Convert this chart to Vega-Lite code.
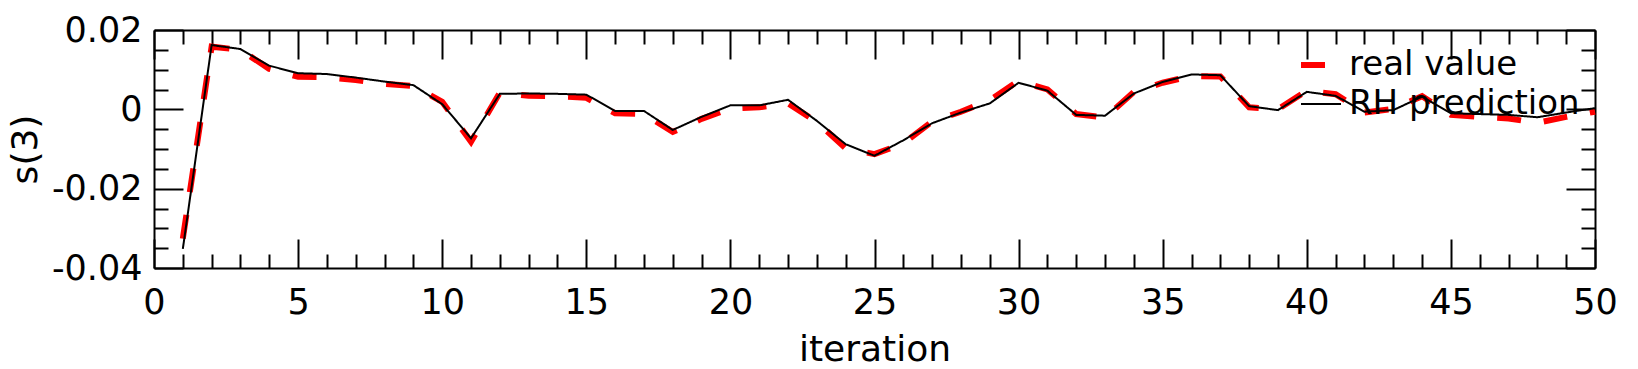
{
  "$schema": "https://vega.github.io/schema/vega-lite/v6.json",
  "width": 1441,
  "height": 238,
  "autosize": {"type": "none"},
  "padding": {"left": 154, "top": 30, "right": 43, "bottom": 101},
  "background": "white",
  "config": {
    "view": {"stroke": null},
    "font": "DejaVu Sans",
    "axis": {
      "grid": false,
      "domainColor": "black",
      "domainWidth": 2,
      "tickColor": "black",
      "tickWidth": 2,
      "labelColor": "black",
      "labelFont": "DejaVu Sans",
      "labelFontSize": 35,
      "labelFlush": false,
      "labelOverlap": false,
      "labelBound": false,
      "titleColor": "black",
      "titleFont": "DejaVu Sans",
      "titleFontSize": 36,
      "titleFontWeight": "normal"
    },
    "legend": {
      "orient": "none",
      "legendX": 1144,
      "legendY": 12,
      "padding": 0,
      "labelFont": "DejaVu Sans",
      "labelFontSize": 34,
      "labelColor": "black",
      "labelLimit": 0,
      "symbolType": "stroke",
      "symbolSize": 1600,
      "labelOffset": 5,
      "rowPadding": 1
    }
  },
  "data": {
    "values": [
      {"iteration": 1, "real value": -0.0326, "RH prediction": -0.0352},
      {"iteration": 2, "real value": 0.0158, "RH prediction": 0.0162},
      {"iteration": 3, "real value": 0.0150, "RH prediction": 0.0152},
      {"iteration": 4, "real value": 0.0102, "RH prediction": 0.0110},
      {"iteration": 5, "real value": 0.0082, "RH prediction": 0.0091},
      {"iteration": 6, "real value": 0.0081, "RH prediction": 0.0089},
      {"iteration": 7, "real value": 0.0074, "RH prediction": 0.0080},
      {"iteration": 8, "real value": 0.0064, "RH prediction": 0.0070},
      {"iteration": 9, "real value": 0.0059, "RH prediction": 0.0061},
      {"iteration": 10, "real value": 0.0019, "RH prediction": 0.0013},
      {"iteration": 11, "real value": -0.0082, "RH prediction": -0.0073},
      {"iteration": 12, "real value": 0.0042, "RH prediction": 0.0039},
      {"iteration": 13, "real value": 0.0034, "RH prediction": 0.0040},
      {"iteration": 14, "real value": 0.0033, "RH prediction": 0.0039},
      {"iteration": 15, "real value": 0.0029, "RH prediction": 0.0037},
      {"iteration": 16, "real value": -0.0010, "RH prediction": -0.0004},
      {"iteration": 17, "real value": -0.0012, "RH prediction": -0.0004},
      {"iteration": 18, "real value": -0.0057, "RH prediction": -0.0052},
      {"iteration": 19, "real value": -0.0024, "RH prediction": -0.0019},
      {"iteration": 20, "real value": 0.0002, "RH prediction": 0.0010},
      {"iteration": 21, "real value": 0.0005, "RH prediction": 0.0010},
      {"iteration": 22, "real value": 0.0015, "RH prediction": 0.0024},
      {"iteration": 23, "real value": -0.0032, "RH prediction": -0.0029},
      {"iteration": 24, "real value": -0.0098, "RH prediction": -0.0088},
      {"iteration": 25, "real value": -0.0113, "RH prediction": -0.0117},
      {"iteration": 26, "real value": -0.0086, "RH prediction": -0.0078},
      {"iteration": 27, "real value": -0.0031, "RH prediction": -0.0035},
      {"iteration": 28, "real value": -0.0006, "RH prediction": -0.0008},
      {"iteration": 29, "real value": 0.0023, "RH prediction": 0.0015},
      {"iteration": 30, "real value": 0.0072, "RH prediction": 0.0067},
      {"iteration": 31, "real value": 0.0050, "RH prediction": 0.0047},
      {"iteration": 32, "real value": -0.0012, "RH prediction": -0.0014},
      {"iteration": 33, "real value": -0.0021, "RH prediction": -0.0016},
      {"iteration": 34, "real value": 0.0044, "RH prediction": 0.0040},
      {"iteration": 35, "real value": 0.0067, "RH prediction": 0.0069},
      {"iteration": 36, "real value": 0.0084, "RH prediction": 0.0088},
      {"iteration": 37, "real value": 0.0083, "RH prediction": 0.0086},
      {"iteration": 38, "real value": 0.0005, "RH prediction": 0.0008},
      {"iteration": 39, "real value": 0.0000, "RH prediction": -0.0002},
      {"iteration": 40, "real value": 0.0047, "RH prediction": 0.0044},
      {"iteration": 41, "real value": 0.0038, "RH prediction": 0.0034},
      {"iteration": 42, "real value": -0.0008, "RH prediction": -0.0006},
      {"iteration": 43, "real value": 0.0001, "RH prediction": -0.0002},
      {"iteration": 44, "real value": 0.0033, "RH prediction": 0.0032},
      {"iteration": 45, "real value": -0.0014, "RH prediction": -0.0010},
      {"iteration": 46, "real value": -0.0019, "RH prediction": -0.0012},
      {"iteration": 47, "real value": -0.0023, "RH prediction": -0.0014},
      {"iteration": 48, "real value": -0.0034, "RH prediction": -0.0020},
      {"iteration": 49, "real value": -0.0019, "RH prediction": -0.0008},
      {"iteration": 50, "real value": -0.0006, "RH prediction": 0.0003}
    ]
  },
  "transform": [{"fold": ["real value", "RH prediction"], "as": ["series", "value"]}],
  "layer": [
    {
      "transform": [{"filter": "datum.series === 'real value'"}],
      "mark": {"type": "line", "strokeCap": "butt", "strokeJoin": "miter"},
      "encoding": {
        "x": {
          "field": "iteration", "type": "quantitative",
          "scale": {"domain": [0, 50], "nice": false, "zero": false},
          "axis": {
            "orient": "bottom",
            "values": [0,1,2,3,4,5,6,7,8,9,10,11,12,13,14,15,16,17,18,19,20,21,22,23,24,25,26,27,28,29,30,31,32,33,34,35,36,37,38,39,40,41,42,43,44,45,46,47,48,49,50],
            "tickSize": {"condition": {"test": "datum.value % 5 === 0", "value": -29}, "value": -14},
            "labelExpr": "datum.value % 5 === 0 ? datum.label : ''",
            "labelPadding": 46,
            "title": "iteration",
            "titleBaseline": "alphabetic",
            "titleY": 92
          }
        },
        "y": {
          "field": "value", "type": "quantitative",
          "scale": {"domain": [-0.04, 0.02], "nice": false, "zero": false},
          "axis": {
            "orient": "left",
            "values": [-0.04,-0.035,-0.03,-0.025,-0.02,-0.015,-0.01,-0.005,0,0.005,0.01,0.015,0.02],
            "tickSize": {"condition": {"test": "abs(datum.value/0.02 - round(datum.value/0.02)) < 0.001", "value": -29}, "value": -14},
            "labelExpr": "abs(datum.value/0.02 - round(datum.value/0.02)) < 0.001 ? '' + datum.value : ''",
            "labelPadding": 41,
            "labelBaseline": "middle",
            "title": "s(3)",
            "titleBaseline": "alphabetic",
            "titleX": -118
          }
        },
        "color": {"field": "series", "type": "nominal", "scale": {"domain": ["real value", "RH prediction"], "range": ["#ff0000", "#000000"]}, "legend": {"title": null}},
        "strokeDash": {"field": "series", "type": "nominal", "scale": {"domain": ["real value", "RH prediction"], "range": [[24, 23], [1, 0]]}, "legend": {"title": null}},
        "strokeWidth": {"field": "series", "type": "nominal", "scale": {"domain": ["real value", "RH prediction"], "range": [6, 2]}, "legend": {"title": null}}
      }
    },
    {
      "transform": [{"filter": "datum.series === 'RH prediction'"}],
      "mark": {"type": "line", "strokeCap": "butt", "strokeJoin": "miter"},
      "encoding": {
        "x": {
          "field": "iteration", "type": "quantitative",
          "axis": {
            "orient": "top",
            "values": [0,1,2,3,4,5,6,7,8,9,10,11,12,13,14,15,16,17,18,19,20,21,22,23,24,25,26,27,28,29,30,31,32,33,34,35,36,37,38,39,40,41,42,43,44,45,46,47,48,49,50],
            "tickSize": {"condition": {"test": "datum.value % 5 === 0", "value": -29}, "value": -14},
            "labels": false,
            "title": null
          }
        },
        "y": {
          "field": "value", "type": "quantitative",
          "axis": {
            "orient": "right",
            "values": [-0.04,-0.035,-0.03,-0.025,-0.02,-0.015,-0.01,-0.005,0,0.005,0.01,0.015,0.02],
            "tickSize": {"condition": {"test": "abs(datum.value/0.02 - round(datum.value/0.02)) < 0.001", "value": -29}, "value": -14},
            "labels": false,
            "title": null
          }
        },
        "color": {"field": "series", "type": "nominal", "scale": {"domain": ["real value", "RH prediction"], "range": ["#ff0000", "#000000"]}, "legend": {"title": null}},
        "strokeDash": {"field": "series", "type": "nominal", "scale": {"domain": ["real value", "RH prediction"], "range": [[24, 23], [1, 0]]}, "legend": {"title": null}},
        "strokeWidth": {"field": "series", "type": "nominal", "scale": {"domain": ["real value", "RH prediction"], "range": [6, 2]}, "legend": {"title": null}}
      }
    }
  ],
  "resolve": {"axis": {"x": "independent", "y": "independent"}}
}
